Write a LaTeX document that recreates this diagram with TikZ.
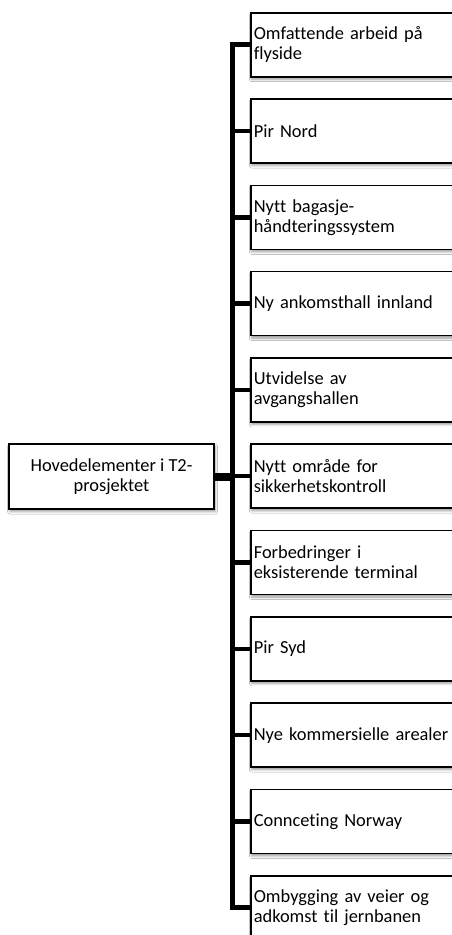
\documentclass[tikz,border=0pt]{standalone}
\usepackage{fontspec}
\setmainfont{Carlito}[Ligatures=NoCommon]
\usetikzlibrary{shadows.blur}
\begin{document}
\begin{tikzpicture}[x=1pt,y=1pt,
  box/.style={draw=black, line width=1.6pt, fill=white, rectangle,
    inner xsep=3pt, inner ysep=0pt, minimum height=64pt,
    font=\fontsize{18.4}{20.2}\selectfont,
    blur shadow={shadow xshift=1pt, shadow yshift=-2.5pt,
      shadow blur radius=2.5pt, shadow opacity=40}},
  item/.style={box, anchor=west, text width=236pt, align=left},
  root/.style={box, minimum width=205pt, minimum height=65pt, align=center},
  spine/.style={line width=5.5pt, line cap=rect},
  branch/.style={line width=4.5pt},
  trunk/.style={line width=8pt}]
\clip (0,0) rectangle (452,-935);
\fill[white] (0,0) rectangle (452,-935);
\coordinate (sp) at (232.5,0);

% elements of the project, top to bottom
\foreach \t [count=\i] in {
  {Omfattende arbeid på\\flyside},
  {Pir Nord},
  {Nytt bagasje-\\håndteringssystem},
  {Ny ankomsthall innland},
  {Utvidelse av\\avgangshallen},
  {Nytt område for\\sikkerhetskontroll},
  {Forbedringer i\\eksisterende terminal},
  {Pir Syd},
  {Nye kommersielle arealer},
  {Connceting Norway},
  {Ombygging av veier og\\adkomst til jernbanen}}
{
  \node[item] (r\i) at (250,{-44.7-86.3*(\i-1)}) {\t};
}

% root box
\node[root] (root) at (111.5,-476.5) {Hovedelementer i T2-\\prosjektet};

% connectors
\draw[spine] (r1.west -| sp) -- (r11.west -| sp);
\foreach \i in {1,...,11}
  \draw[branch] (r\i.west -| sp) -- (r\i.west);
\draw[trunk] (root.east) -- (root.east -| sp);
\end{tikzpicture}
\end{document}
